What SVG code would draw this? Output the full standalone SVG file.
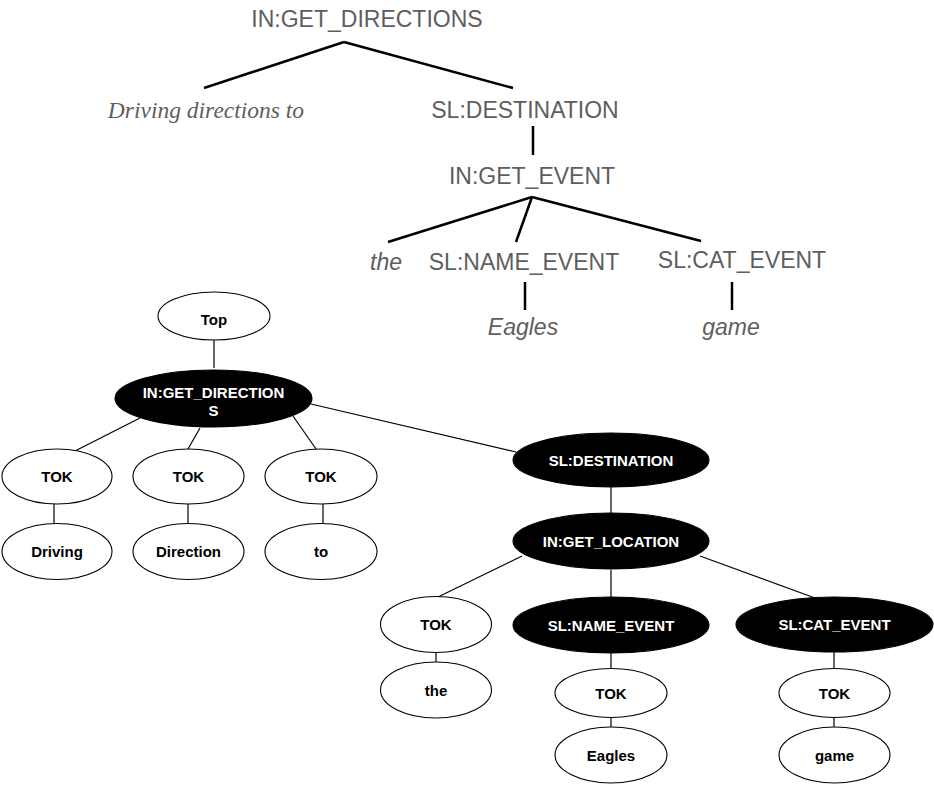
<svg xmlns="http://www.w3.org/2000/svg" width="934" height="785" viewBox="0 0 934 785">
<style>
.t{font-family:"Liberation Sans",Arial,sans-serif;font-size:23px;fill:#5e5e5e;text-anchor:middle}
.ti{font-family:"Liberation Sans",Arial,sans-serif;font-size:23px;font-style:italic;fill:#5e5e5e;text-anchor:middle}
.ts{font-family:"Liberation Serif","Times New Roman",serif;font-size:23.5px;font-style:italic;fill:#5e5e5e;text-anchor:middle}
.tl{stroke:#000;stroke-width:2.5;fill:none;stroke-linecap:butt}
.cl{stroke:#000;stroke-width:1.2;fill:none}
.w ellipse{fill:#fff;stroke:#000;stroke-width:1.1}
.b ellipse{fill:#000;stroke:#000;stroke-width:1.1}
.w text{font-family:"Liberation Sans",Arial,sans-serif;font-size:15px;font-weight:bold;fill:#000;text-anchor:middle}
.b text{font-family:"Liberation Sans",Arial,sans-serif;font-size:15px;font-weight:bold;fill:#fff;text-anchor:middle}
</style>
<rect width="934" height="785" fill="#fff"/>
<g id="top-tree-connectors">
<line class="tl" x1="344" y1="42" x2="204" y2="88"/>
<line class="tl" x1="344" y1="42" x2="513" y2="88"/>
<line class="tl" x1="533" y1="126" x2="533" y2="155"/>
<line class="tl" x1="532" y1="197" x2="388" y2="242"/>
<line class="tl" x1="532" y1="197" x2="516" y2="242"/>
<line class="tl" x1="532" y1="197" x2="701" y2="241"/>
<line class="tl" x1="525" y1="282" x2="525" y2="310"/>
<line class="tl" x1="732" y1="282" x2="732" y2="310"/>
</g>
<g id="top-tree-nodes">
<text id="t-getdir" class="t" x="367" y="27">IN:GET_DIRECTIONS</text>
<text id="t-driving" class="ts" x="206" y="118">Driving directions to</text>
<text id="t-dest" class="t" x="525" y="118">SL:DESTINATION</text>
<text id="t-getevent" class="t" x="532" y="184">IN:GET_EVENT</text>
<text id="t-the" class="ti" x="386" y="270">the</text>
<text id="t-name" class="t" x="524" y="270">SL:NAME_EVENT</text>
<text id="t-cat" class="t" x="742" y="268">SL:CAT_EVENT</text>
<text id="t-eagles" class="ti" x="523" y="335">Eagles</text>
<text id="t-game" class="ti" x="731" y="335">game</text>
</g>
<g id="connectors">
<line class="cl" x1="214" y1="340" x2="214" y2="368"/>
<line class="cl" x1="140" y1="418" x2="73" y2="452"/>
<line class="cl" x1="200" y1="428" x2="188" y2="449"/>
<line class="cl" x1="293" y1="416" x2="316" y2="449"/>
<line class="cl" x1="311" y1="404" x2="516" y2="452"/>
<line class="cl" x1="54" y1="504" x2="54" y2="524"/>
<line class="cl" x1="188" y1="504" x2="188" y2="524"/>
<line class="cl" x1="323" y1="504" x2="323" y2="524"/>
<line class="cl" x1="611" y1="487" x2="611" y2="514"/>
<line class="cl" x1="522" y1="556" x2="438" y2="597"/>
<line class="cl" x1="611" y1="570" x2="611" y2="597"/>
<line class="cl" x1="700" y1="556" x2="815" y2="598"/>
<line class="cl" x1="436" y1="653" x2="436" y2="662"/>
<line class="cl" x1="611" y1="653" x2="611" y2="669"/>
<line class="cl" x1="611" y1="717" x2="611" y2="727"/>
<line class="cl" x1="834" y1="652" x2="834" y2="669"/>
<line class="cl" x1="834" y1="717" x2="834" y2="727"/>
</g>
<g id="n-top" class="w"><ellipse cx="214" cy="316" rx="56" ry="24"/><text x="214" y="325">Top</text></g>
<g id="n-getdir" class="b"><ellipse cx="213.5" cy="398.5" rx="98.5" ry="28.5"/><text x="213.5" y="398">IN:GET_DIRECTION</text><text x="213.5" y="416">S</text></g>
<g id="n-tok1" class="w"><ellipse cx="57" cy="476.5" rx="55" ry="27.5"/><text x="57" y="482">TOK</text></g>
<g id="n-tok2" class="w"><ellipse cx="188.5" cy="476.5" rx="55.5" ry="27.5"/><text x="188.5" y="482">TOK</text></g>
<g id="n-tok3" class="w"><ellipse cx="321" cy="476.5" rx="56" ry="27.5"/><text x="321" y="482">TOK</text></g>
<g id="n-driving" class="w"><ellipse cx="57" cy="551.5" rx="55" ry="28"/><text x="57" y="557">Driving</text></g>
<g id="n-direction" class="w"><ellipse cx="188.5" cy="551.5" rx="55.5" ry="28"/><text x="188.5" y="557">Direction</text></g>
<g id="n-to" class="w"><ellipse cx="321" cy="551.5" rx="56" ry="28"/><text x="321" y="557">to</text></g>
<g id="n-dest" class="b"><ellipse cx="611" cy="460" rx="98" ry="27"/><text x="611" y="465.5">SL:DESTINATION</text></g>
<g id="n-getloc" class="b"><ellipse cx="611" cy="541" rx="98" ry="28"/><text x="611" y="546.5">IN:GET_LOCATION</text></g>
<g id="n-tok-the" class="w"><ellipse cx="436" cy="624.5" rx="55.5" ry="28"/><text x="436" y="630">TOK</text></g>
<g id="n-name" class="b"><ellipse cx="611" cy="625" rx="98" ry="28"/><text x="611" y="630.5">SL:NAME_EVENT</text></g>
<g id="n-cat" class="b"><ellipse cx="834.5" cy="624.5" rx="98.5" ry="27.5"/><text x="834.5" y="630">SL:CAT_EVENT</text></g>
<g id="n-the" class="w"><ellipse cx="436" cy="690" rx="55.5" ry="28"/><text x="436" y="695.5">the</text></g>
<g id="n-tok-eagles" class="w"><ellipse cx="611" cy="693" rx="56" ry="24.5"/><text x="611" y="698.5">TOK</text></g>
<g id="n-eagles" class="w"><ellipse cx="611" cy="755" rx="56" ry="28"/><text x="611" y="760.5">Eagles</text></g>
<g id="n-tok-game" class="w"><ellipse cx="834.5" cy="693" rx="55.5" ry="24.5"/><text x="834.5" y="698.5">TOK</text></g>
<g id="n-game" class="w"><ellipse cx="834.5" cy="755" rx="55.5" ry="28"/><text x="834.5" y="760.5">game</text></g>
</svg>
